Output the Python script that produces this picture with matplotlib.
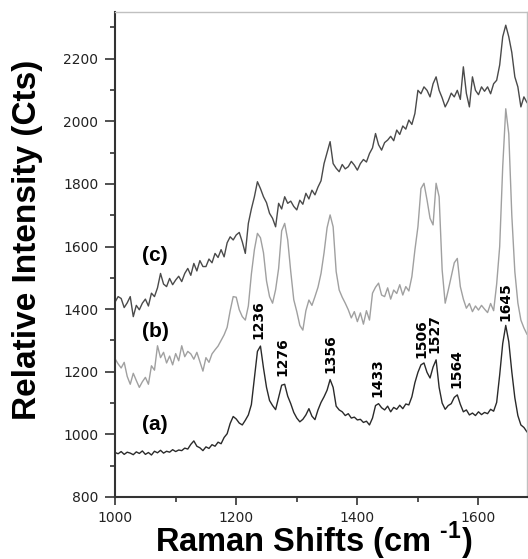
import numpy as np
import matplotlib.pyplot as plt
from matplotlib.ticker import MultipleLocator

# raman shift grid (cm-1), 5 cm-1 step
shift = np.arange(1000, 1681, 5)

# spectrum (a)
spec_a = [
    942, 938, 945, 936, 943, 940, 935, 944, 939, 947,
    936, 942, 934, 946, 941, 949, 940, 946, 943, 951,
    945, 950, 948, 956, 953, 968, 979, 962, 957, 948,
    960, 955, 967, 962, 975, 970, 990, 1002, 1035, 1057,
    1049, 1036, 1030, 1045, 1062, 1095, 1181, 1265, 1282, 1212,
    1150, 1108, 1092, 1079, 1118, 1157, 1160, 1122, 1098, 1070,
    1052, 1040, 1048, 1062, 1082, 1058, 1047, 1078, 1102, 1120,
    1141, 1175, 1150, 1090, 1078, 1072, 1060, 1066, 1052, 1055,
    1046, 1048, 1038, 1042, 1030, 1052, 1092, 1098, 1085, 1078,
    1090, 1072, 1086, 1080, 1093, 1082, 1097, 1094, 1120, 1165,
    1198, 1222, 1228, 1198, 1180, 1215, 1238, 1150, 1100, 1080,
    1092, 1098, 1118, 1126, 1096, 1072, 1078, 1062, 1068, 1060,
    1072, 1063, 1070, 1066, 1080, 1074, 1102, 1190, 1290, 1348,
    1296, 1200, 1117, 1060, 1030, 1022, 1008,
]

# spectrum (b)
spec_b = [
    1241, 1225, 1212, 1230, 1185, 1160, 1195, 1172, 1150, 1168,
    1182, 1160, 1219, 1205, 1283, 1245, 1262, 1228, 1250, 1222,
    1258, 1235, 1283, 1248, 1265, 1257, 1240, 1262, 1232, 1202,
    1245, 1230, 1257, 1270, 1282, 1300, 1318, 1342, 1395, 1440,
    1438, 1398, 1376, 1365, 1410, 1512, 1590, 1642, 1628, 1580,
    1490, 1440, 1419, 1462, 1530, 1650, 1674, 1621, 1520, 1430,
    1392, 1348, 1333, 1395, 1429, 1412, 1440, 1470, 1514, 1580,
    1660, 1701, 1663, 1520, 1461, 1438, 1419, 1398, 1372, 1392,
    1360, 1388, 1352, 1395, 1365, 1451, 1470, 1483, 1445, 1440,
    1468, 1432, 1461, 1450, 1478, 1445, 1472, 1458, 1504, 1589,
    1663, 1785, 1802, 1749, 1690, 1669, 1802, 1759, 1525, 1419,
    1460, 1504, 1548, 1562, 1472, 1432, 1403, 1418, 1392, 1410,
    1397, 1412, 1400, 1389, 1418, 1395, 1480, 1600, 1855, 2040,
    1960, 1700, 1520, 1420, 1365, 1340, 1320,
]

# spectrum (c)
spec_c = [
    1423, 1440, 1434, 1405, 1420, 1440, 1376, 1412, 1398, 1419,
    1432, 1410, 1451, 1440, 1468, 1514, 1480, 1472, 1498, 1478,
    1493, 1505, 1488, 1514, 1530, 1508, 1546, 1522, 1555, 1536,
    1536, 1560, 1548, 1578, 1565, 1590, 1567, 1612, 1631, 1621,
    1637, 1645, 1615, 1578, 1674, 1720, 1759, 1807, 1785, 1759,
    1740, 1706, 1690, 1663, 1738, 1720, 1759, 1738, 1745, 1728,
    1717, 1748, 1735, 1770, 1752, 1780, 1765, 1790, 1810, 1865,
    1900, 1935, 1865, 1850, 1839, 1862, 1848, 1855, 1872, 1860,
    1844, 1865, 1878, 1870, 1897, 1915, 1961, 1925, 1908, 1932,
    1940, 1952, 1938, 1972, 1958, 1985, 1975, 2004, 1990, 2025,
    2099, 2088, 2110, 2099, 2078, 2120, 2142, 2099, 2075, 2046,
    2065, 2090, 2078, 2099, 2070, 2174, 2089, 2046, 2142, 2099,
    2085, 2110, 2096, 2110, 2088, 2120, 2131, 2180, 2270, 2307,
    2270, 2220, 2142, 2110, 2046, 2078, 2060,
]

# peak labels for spectrum (a): position and label height
peak_pos = [1236, 1276, 1356, 1433, 1506, 1527, 1564, 1645]
peak_lab_y = [1305, 1185, 1195, 1120, 1245, 1260, 1148, 1362]

# curve labels
curve_names = ["(a)", "(b)", "(c)"]
curve_lab_y = [1030, 1327, 1570]

plt.rcParams["mathtext.fontset"] = "custom"
plt.rcParams["mathtext.bf"] = "Liberation Sans:bold"
plt.rcParams["mathtext.rm"] = "Liberation Sans:bold"

fig = plt.figure(figsize=(5.28, 5.59), dpi=100)
ax = fig.add_axes([0.218, 0.111, 0.780, 0.868])

ax.plot(shift, spec_a, color="#2a2a2a", lw=1.0)
ax.plot(shift, spec_b, color="#a0a0a0", lw=1.0)
ax.plot(shift, spec_c, color="#4a4a4a", lw=1.0)

for p, y in zip(peak_pos, peak_lab_y):
    ax.text(p, y, str(p), rotation=90, ha="center", va="bottom",
            fontsize=10, fontweight="bold", family="DejaVu Sans")

for name, y in zip(curve_names, curve_lab_y):
    ax.text(1066, y, name, ha="center", va="center", fontsize=15,
            fontweight="bold", family="Liberation Sans")

ax.set_xlim(1000, 1680)
ax.set_ylim(800, 2350)
ax.set_xticks([1000, 1200, 1400, 1600])
ax.set_yticks(np.arange(800, 2201, 200))
ax.xaxis.set_minor_locator(MultipleLocator(100))
ax.yaxis.set_minor_locator(MultipleLocator(100))
ax.tick_params(which="major", direction="out", length=6, width=1.2,
               color="#333333", labelsize=10, labelcolor="#222222", pad=4)
ax.tick_params(which="minor", direction="out", length=3.5, width=1.2,
               color="#333333")
ax.tick_params(axis="y", which="major", length=7, pad=5)

for s in ["left", "bottom"]:
    ax.spines[s].set_color("#333333")
    ax.spines[s].set_linewidth(1.5)
for s in ["top", "right"]:
    ax.spines[s].set_color("#c0c0c0")
    ax.spines[s].set_linewidth(1.0)

fig.text(0.053, 0.571, "Relative Intensity (Cts)", rotation=90,
         ha="center", va="center", fontsize=24, fontweight="bold",
         family="Liberation Sans")
fig.text(0.595, 0.012, r"Raman Shifts (cm $^{\text{-1}}$)", ha="center",
         va="baseline", fontsize=23.5, fontweight="bold",
         family="Liberation Sans")

fig.savefig("out.png", dpi=100)
